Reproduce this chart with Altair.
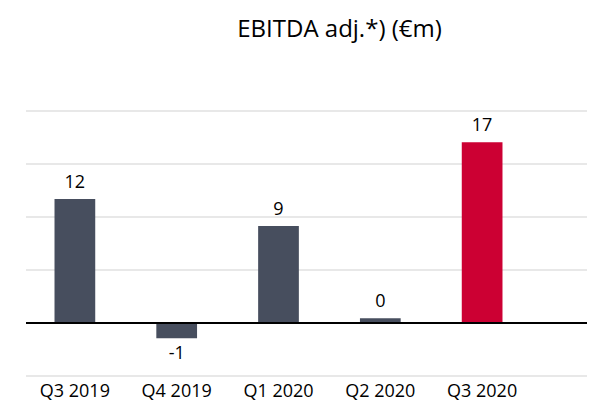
import altair as alt
import pandas as pd

quarters = ["Q3 2019", "Q4 2019", "Q1 2020", "Q2 2020", "Q3 2020"]
values = [11.7, -1.45, 9.15, 0.45, 17.05]
labels = ["12", "-1", "9", "0", "17"]
colors = ["#474e5e", "#474e5e", "#474e5e", "#474e5e", "#cc0033"]
grid_values = [-5, 5, 10, 15, 20]

df = pd.DataFrame({"quarter": quarters, "value": values, "label": labels, "color": colors})
zero_df = pd.DataFrame({"zero": [0]})
grid_df = pd.DataFrame({"g": grid_values})

FONT = "Open Sans"
yscale = alt.Scale(domain=[-5, 20], nice=False, zero=False)

x = alt.X(
    "quarter:N", sort=quarters, title=None,
    scale=alt.Scale(range=[0, 505], paddingInner=0.6, paddingOuter=0.28),
    axis=alt.Axis(labelAngle=0, domain=False, ticks=False, labelFontSize=18,
                  labelFont=FONT, labelColor="#000000", labelPadding=6),
)
y = alt.Y("value:Q", title=None, scale=yscale, axis=None)

base = alt.Chart(df)

grid = alt.Chart(grid_df).mark_rule(color="#e8e8e8", strokeWidth=2).encode(
    y=alt.Y("g:Q", scale=yscale, axis=None)
)

bars = base.mark_bar().encode(x=x, y=y, color=alt.Color("color:N", scale=None))

pos_text = base.transform_filter("datum.value >= 0").mark_text(
    baseline="alphabetic", dy=-11, fontSize=18, font=FONT, color="#000000"
).encode(x=x, y=y, text="label:N")

neg_text = base.transform_filter("datum.value < 0").mark_text(
    baseline="top", dy=7, fontSize=18, font=FONT, color="#000000"
).encode(x=x, y=y, text="label:N")

zero_line = alt.Chart(zero_df).mark_rule(color="#000000", strokeWidth=2).encode(
    y=alt.Y("zero:Q", scale=yscale, axis=None)
)

chart = alt.layer(grid, bars, zero_line, pos_text, neg_text).properties(
    width=561, height=265,
    title=alt.TitleParams(
        text="EBITDA adj.*) (€m)", font=FONT, fontSize=24, fontWeight="normal",
        color="#000000", anchor="middle", dx=33, offset=49, baseline="alphabetic",
    ),
    autosize=alt.AutoSizeParams(type="none"),
    padding={"left": 18, "top": 103, "right": 0, "bottom": 27},
).configure_view(stroke=None)

chart.save("out.html", embed_options={"renderer": "svg", "actions": False})
